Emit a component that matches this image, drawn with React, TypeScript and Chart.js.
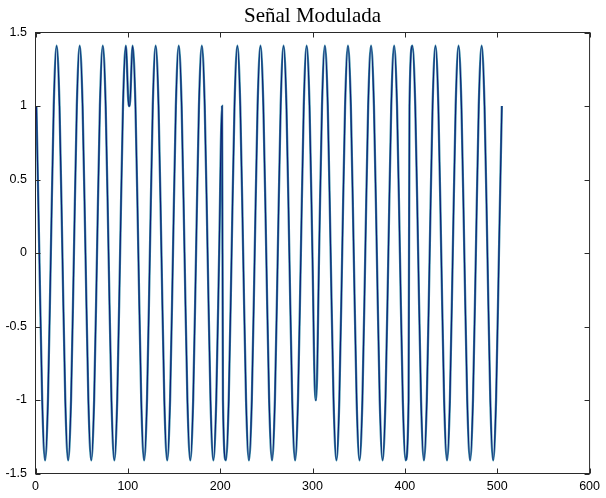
import React, { useEffect, useRef } from "react";
import { Chart, registerables } from "chart.js";

Chart.register(...registerables);

const titleText = "Señal Modulada";

// x limits and ticks
const xTicks = [0, 100, 200, 300, 400, 500, 600];
const yTicks = [-1.5, -1, -0.5, 0, 0.5, 1, 1.5];

// each symbol lasts 101 samples; start sample of each symbol
const symbolStarts = [1, 102, 203, 304, 405];

// sample offsets read inside one symbol (every eighth of a carrier period)
const sampleOffsets = [
  0, 3.125, 6.25, 9.375, 12.5, 15.625, 18.75, 21.875, 25, 28.125, 31.25, 34.375,
  37.5, 40.625, 43.75, 46.875, 50, 53.125, 56.25, 59.375, 62.5, 65.625, 68.75,
  71.875, 75, 78.125, 81.25, 84.375, 87.5, 90.625, 93.75, 96.875, 100,
];

// signal values, per symbol
const symbol1 = [
  1, 0, -1, -1.41, -1, 0, 1, 1.41, 1, 0, -1, -1.41, -1, 0, 1, 1.41, 1, 0, -1,
  -1.41, -1, 0, 1, 1.41, 1, 0, -1, -1.41, -1, 0, 1, 1.41, 1,
];
const symbol2 = [
  1, 1.41, 1, 0, -1, -1.41, -1, 0, 1, 1.41, 1, 0, -1, -1.41, -1, 0, 1, 1.41, 1,
  0, -1, -1.41, -1, 0, 1, 1.41, 1, 0, -1, -1.41, -1, 0, 1,
];
const symbol3 = [
  -1, -1.41, -1, 0, 1, 1.41, 1, 0, -1, -1.41, -1, 0, 1, 1.41, 1, 0, -1, -1.41,
  -1, 0, 1, 1.41, 1, 0, -1, -1.41, -1, 0, 1, 1.41, 1, 0, -1,
];
const symbol4 = [
  -1, 0, 1, 1.41, 1, 0, -1, -1.41, -1, 0, 1, 1.41, 1, 0, -1, -1.41, -1, 0, 1,
  1.41, 1, 0, -1, -1.41, -1, 0, 1, 1.41, 1, 0, -1, -1.41, -1,
];
const symbol5 = [
  1, 1.41, 1, 0, -1, -1.41, -1, 0, 1, 1.41, 1, 0, -1, -1.41, -1, 0, 1, 1.41, 1,
  0, -1, -1.41, -1, 0, 1, 1.41, 1, 0, -1, -1.41, -1, 0, 1,
];

const symbols = [symbol1, symbol2, symbol3, symbol4, symbol5];

const boxPlugin = {
  id: "matlabBox",
  afterDraw(chart: any) {
    const { ctx, chartArea } = chart;
    const { left, right, top, bottom } = chartArea;
    const xs = chart.scales.x;
    const ys = chart.scales.y;
    const len = 5;
    ctx.save();
    ctx.strokeStyle = "#2a2a2a";
    ctx.lineWidth = 1;
    ctx.beginPath();
    xs.ticks.forEach((t: any) => {
      const px = Math.round(xs.getPixelForValue(t.value)) + 0.5;
      ctx.moveTo(px, bottom);
      ctx.lineTo(px, bottom - len);
      ctx.moveTo(px, top);
      ctx.lineTo(px, top + len);
    });
    ys.ticks.forEach((t: any) => {
      const py = Math.round(ys.getPixelForValue(t.value)) + 0.5;
      ctx.moveTo(left, py);
      ctx.lineTo(left + len, py);
      ctx.moveTo(right, py);
      ctx.lineTo(right - len, py);
    });
    ctx.stroke();
    ctx.strokeRect(left, top, right - left, bottom - top);
    ctx.restore();
  },
};

export default function App() {
  const ref = useRef<HTMLCanvasElement>(null);
  useEffect(() => {
    document.body.style.margin = "0";
    const pts: { x: number; y: number }[] = [];
    symbols.forEach((vals, k) =>
      vals.forEach((v, i) => pts.push({ x: symbolStarts[k] + sampleOffsets[i], y: v }))
    );
    const tickFont = { family: "'Liberation Sans', Arial, sans-serif", size: 12.5 };
    const chart = new Chart(ref.current as HTMLCanvasElement, {
      type: "line",
      data: {
        datasets: [
          {
            data: pts,
            borderColor: "#0d1c74",
            borderWidth: 1.1,
            pointRadius: 0,
            cubicInterpolationMode: "monotone",
          },
          {
            data: pts,
            borderColor: "#3b8ba6",
            borderWidth: 2.3,
            pointRadius: 0,
            cubicInterpolationMode: "monotone",
          },
        ],
      },
      options: {
        responsive: false,
        animation: false,
        events: [],
        layout: { padding: { left: 0, right: 10.5, top: 0, bottom: 0 } },
        plugins: {
          legend: { display: false },
          tooltip: { enabled: false },
          title: {
            display: true,
            text: titleText,
            fullSize: false,
            color: "#000",
            font: { family: "'Liberation Serif', 'Times New Roman', serif", size: 21, weight: "normal" },
            padding: { top: 4, bottom: 3.3 },
          },
        },
        scales: {
          x: {
            type: "linear",
            min: xTicks[0],
            max: xTicks[xTicks.length - 1],
            afterBuildTicks: (s: any) => {
              s.ticks = xTicks.map((v) => ({ value: v }));
            },
            ticks: { font: tickFont, color: "#000", padding: 6, maxRotation: 0, callback: (v: any) => String(v) },
            grid: { display: false, drawTicks: false },
            border: { display: false },
            afterFit: (s: any) => {
              s.height = 24.5;
            },
          },
          y: {
            type: "linear",
            min: yTicks[0],
            max: yTicks[yTicks.length - 1],
            afterBuildTicks: (s: any) => {
              s.ticks = yTicks.map((v) => ({ value: v }));
            },
            ticks: { font: tickFont, color: "#000", padding: 8.5, callback: (v: any) => String(v) },
            grid: { display: false, drawTicks: false },
            border: { display: false },
            afterFit: (s: any) => {
              s.width = 35.5;
            },
          },
        },
      } as any,
      plugins: [boxPlugin],
    });
    return () => chart.destroy();
  }, []);
  return <canvas ref={ref} width={606} height={498} style={{ display: "block" }} />;
}
